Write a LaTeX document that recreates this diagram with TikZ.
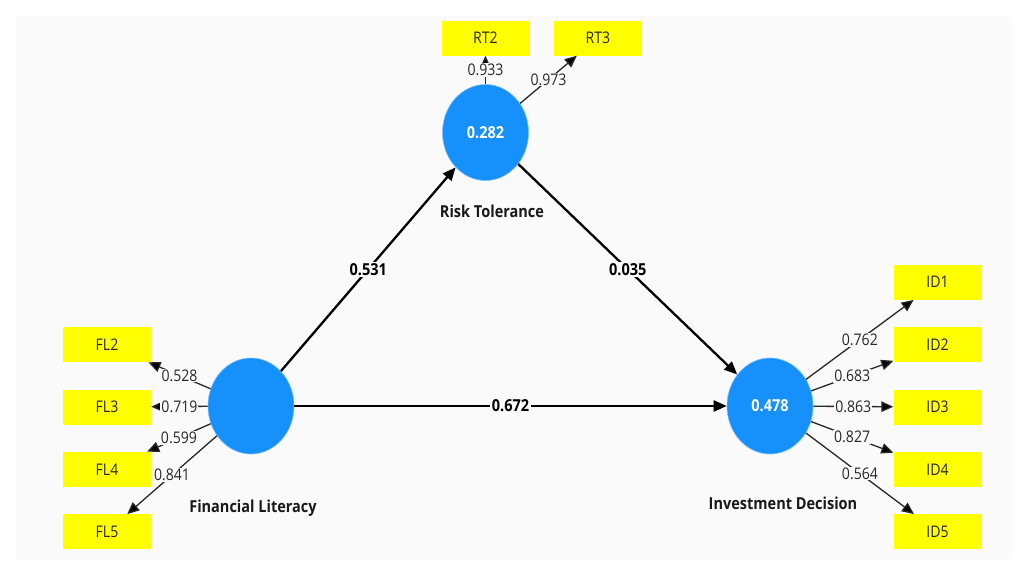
\documentclass[tikz,border=0pt]{standalone}
\usepackage{fontspec}
\setmainfont{Open Sans}[FakeStretch=0.88]
\usepackage{xcolor}
\usepackage{tikz}
\usetikzlibrary{arrows.meta, positioning, shapes.geometric}
\definecolor{plsblue}{RGB}{22,145,252}
\definecolor{plsrim}{RGB}{120,190,255}
\definecolor{plsyellow}{RGB}{255,255,0}
\definecolor{plsbg}{RGB}{250,250,250}
\definecolor{plsgray}{RGB}{40,40,40}

\begin{document}
\begin{tikzpicture}[
        x=1pt, y=-1pt,
        node distance=27pt and 24pt,
        latente/.style={draw=plsrim,line width=0.6pt,fill=plsblue,ellipse,minimum width=86pt,minimum height=96pt,inner sep=0pt,text=white,font=\fontsize{16.5}{19}\selectfont\bfseries},
        indicador/.style={fill=plsyellow,minimum width=88pt,minimum height=35pt,inner sep=0pt,text=plsgray,font=\fontsize{16}{19}\selectfont},
        nome/.style={font=\fontsize{16.5}{19}\selectfont\bfseries,text=black!90},
        caminho/.style={-{Triangle[length=13pt,width=11pt]},line width=2.3pt,black},
        carga/.style={-{Triangle[length=12pt,width=10.5pt,fill=black]},line width=1.3pt,plsgray},
        coef/.style={fill=plsbg,inner sep=1.5pt,font=\fontsize{16.5}{19}\selectfont\bfseries},
        peso/.style={fill=plsbg,inner sep=1pt,text=plsgray,font=\fontsize{16}{19}\selectfont}
    ]
        % fundo
        \useasboundingbox (0,0) rectangle (1024,563);
        \fill[white] (0,0) rectangle (1024,563);
        \fill[plsbg,rounded corners=6pt] (16,16) rectangle (1012,560);

        % construtos
        \node[latente] (rt) at (485.5,132.5) {0.282};
        \node[latente] (fl) at (251,406) {};
        \node[latente] (id) at (770,406) {0.478};
        \node[nome] (rtnome) at (492,211) {Risk Tolerance};
        \node[nome] (flnome) at (253,508) {Financial Literacy};
        \node[nome] (idnome) at (783,503) {Investment Decision};

        % indicadores
        \node[indicador] (rt2) at (485.5,38) {RT2};
        \node[indicador,right=of rt2] (rt3) {RT3};
        \node[indicador] (fl3) at (107,407) {FL3};
        \node[indicador,above=of fl3] (fl2) {FL2};
        \node[indicador,below=of fl3] (fl4) {FL4};
        \node[indicador,below=of fl4] (fl5) {FL5};
        \node[indicador] (id3) at (937.5,407) {ID3};
        \node[indicador,above=of id3] (id2) {ID2};
        \node[indicador,above=of id2] (id1) {ID1};
        \node[indicador,below=of id3] (id4) {ID4};
        \node[indicador,below=of id4] (id5) {ID5};

        % cargas externas
        \draw[carga] (rt) -- node[peso]{0.933} (rt2);
        \draw[carga] (rt) -- node[peso]{0.973} (rt3);
        \draw[carga] (fl) -- node[peso]{0.528} (fl2);
        \draw[carga] (fl) -- node[peso]{0.719} (fl3);
        \draw[carga] (fl) -- node[peso]{0.599} (fl4);
        \draw[carga] (fl) -- node[peso]{0.841} (fl5);
        \draw[carga] (id) -- node[peso]{0.762} (id1);
        \draw[carga] (id) -- node[peso]{0.683} (id2);
        \draw[carga] (id) -- node[peso]{0.863} (id3);
        \draw[carga] (id) -- node[peso]{0.827} (id4);
        \draw[carga] (id) -- node[peso]{0.564} (id5);

        % modelo estrutural
        \draw[caminho] (fl) -- node[coef]{0.531} (rt);
        \draw[caminho] (rt) -- node[coef]{0.035} (id);
        \draw[caminho] (fl) -- node[coef]{0.672} (id);
    \end{tikzpicture}
\end{document}
